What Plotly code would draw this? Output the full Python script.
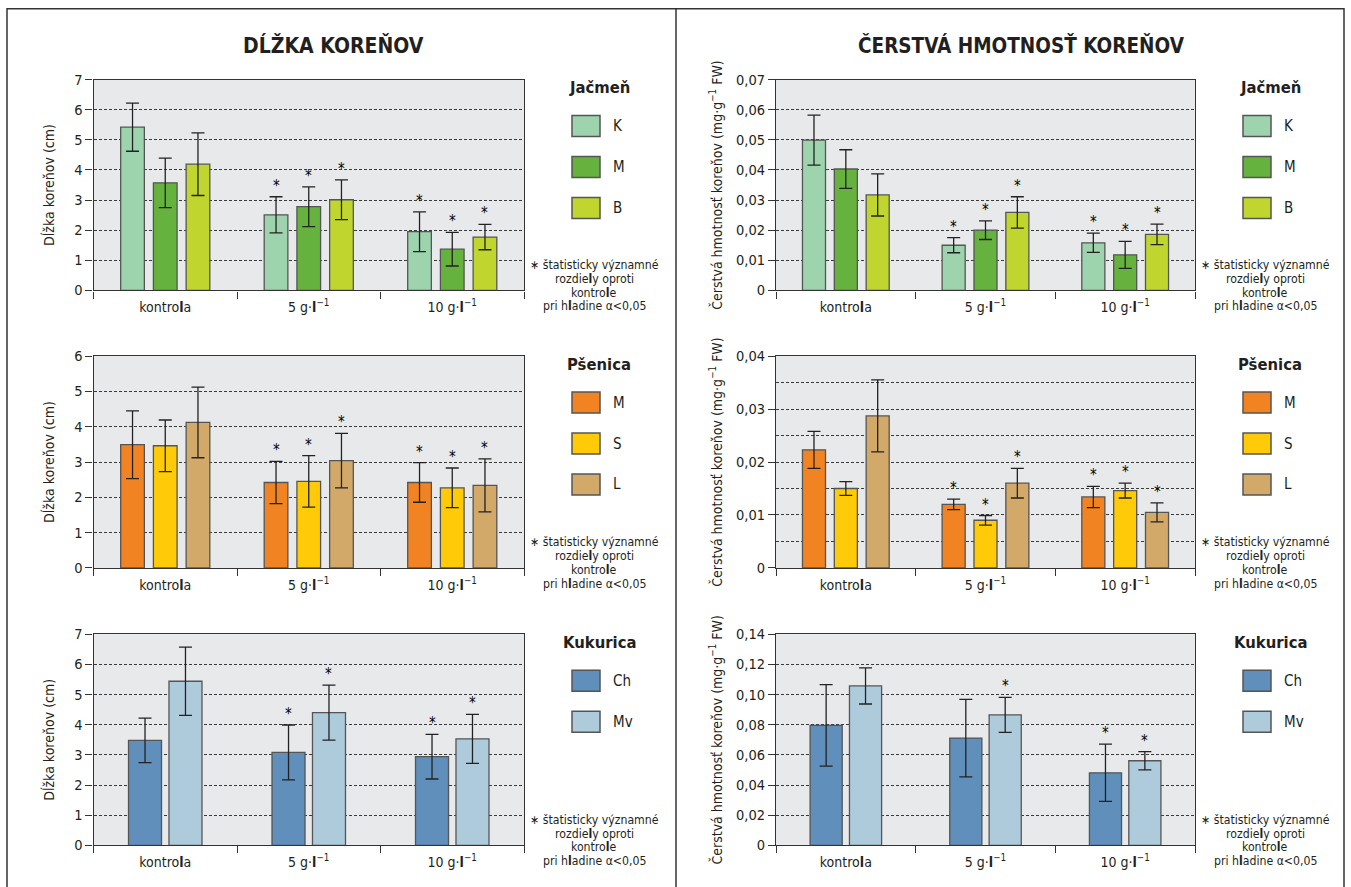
import plotly.graph_objects as go

W, H = 1351, 887
FONT = "'Liberation Sans Narrow', 'Arial Narrow', 'DejaVu Sans Condensed', sans-serif"

# ---------------- data ----------------
categories = ["kontrola", "5", "10"]
cat_ticktext = ["kontro<b>l</b>a", "5 g·<b>l</b><sup>−1</sup>", "10 g·<b>l</b><sup>−1</sup>"]

# Jačmeň (barley)
jacmen_title = "Jačmeň"
jacmen_names = ["K", "M", "B"]
jacmen_colors = ["#9dd4ae", "#66b23e", "#c0d62f"]
jacmen_len = [[5.42, 2.51, 1.95], [3.57, 2.78, 1.37], [4.19, 3.01, 1.77]]
jacmen_len_err = [[0.80, 0.60, 0.66], [0.82, 0.66, 0.56], [1.04, 0.66, 0.42]]
jacmen_len_sig = [[False, True, True], [False, True, True], [False, True, True]]
jacmen_mass = [[0.0499, 0.0150, 0.0158], [0.0403, 0.0200, 0.0118], [0.0317, 0.0259, 0.0186]]
jacmen_mass_err = [[0.0083, 0.0025, 0.0032], [0.0064, 0.0031, 0.0045], [0.0070, 0.0052, 0.0034]]
jacmen_mass_sig = [[False, True, True], [False, True, True], [False, True, True]]

# Pšenica (wheat)
psenica_title = "Pšenica"
psenica_names = ["M", "S", "L"]
psenica_colors = ["#f28322", "#ffcb08", "#d3a96a"]
psenica_len = [[3.49, 2.42, 2.42], [3.46, 2.45, 2.27], [4.12, 3.04, 2.34]]
psenica_len_err = [[0.96, 0.60, 0.56], [0.73, 0.73, 0.56], [1.00, 0.77, 0.75]]
psenica_len_sig = [[False, True, True], [False, True, True], [False, True, True]]
psenica_mass = [[0.0223, 0.0120, 0.0134], [0.0150, 0.0090, 0.0146], [0.0287, 0.0160, 0.0105]]
psenica_mass_err = [[0.0035, 0.0010, 0.0020], [0.0013, 0.0009, 0.0014], [0.0068, 0.0028, 0.0018]]
psenica_mass_sig = [[False, True, True], [False, True, True], [False, True, True]]

# Kukurica (maize)
kukurica_title = "Kukurica"
kukurica_names = ["Ch", "Mv"]
kukurica_colors = ["#5f8fba", "#aecbdc"]
kukurica_len = [[3.48, 3.08, 2.94], [5.44, 4.40, 3.53]]
kukurica_len_err = [[0.74, 0.91, 0.74], [1.13, 0.91, 0.81]]
kukurica_len_sig = [[False, True, True], [False, True, True]]
kukurica_mass = [[0.0795, 0.0711, 0.0481], [0.1057, 0.0865, 0.0561]]
kukurica_mass_err = [[0.0270, 0.0257, 0.0190], [0.0120, 0.0116, 0.0060]]
kukurica_mass_sig = [[False, False, True], [False, True, True]]

# axis ticks
len_ticks_7 = [0, 1, 2, 3, 4, 5, 6, 7]
len_ticks_6 = [0, 1, 2, 3, 4, 5, 6]
mass_ticks_07 = [0, 0.01, 0.02, 0.03, 0.04, 0.05, 0.06, 0.07]
mass_text_07 = ["0", "0,01", "0,02", "0,03", "0,04", "0,05", "0,06", "0,07"]
mass_ticks_04 = [0, 0.01, 0.02, 0.03, 0.04]
mass_text_04 = ["0", "0,01", "0,02", "0,03", "0,04"]
mass_ticks_14 = [0, 0.02, 0.04, 0.06, 0.08, 0.10, 0.12, 0.14]
mass_text_14 = ["0", "0,02", "0,04", "0,06", "0,08", "0,10", "0,12", "0,14"]

title_left = "DĹŽKA KOREŇOV"
title_right = "ČERSTVÁ HMOTNOSŤ KOREŇOV"
ytitle_len = "Dĺžka koreňov (cm)"
ytitle_mass = "Čerstvá hmotnosť koreňov (mg·g<sup>−1</sup> FW)"
note_lines = ["∗ štatisticky významné", "rozdie<b>l</b>y oproti", "kontro<b>l</b>e", "pri h<b>l</b>adine α&lt;0,05"]

# ---------------- layout helpers (pixels) ----------------
# the page is photographed with a small vertical offset/scale; compensate
VY_A, VY_B = 7.4, 0.9826

def px_x(p):
    return p / W

def px_y(p):
    return 1 - ((p - VY_A) / VY_B) / H

col_px = {0: (93.5, 524.0), 1: (776.0, 1195.0)}
row_px = {0: (79.0, 290.0), 1: (355.7, 567.7), 2: (634.0, 845.3)}
standoffs = {0: 16, 1: 10}

panels = [
    (0, 0, jacmen_title, jacmen_names, jacmen_colors, jacmen_len, jacmen_len_err, jacmen_len_sig, [0, 7], len_ticks_7, [str(v) for v in len_ticks_7], None, ytitle_len),
    (1, 0, psenica_title, psenica_names, psenica_colors, psenica_len, psenica_len_err, psenica_len_sig, [0, 6], len_ticks_6, [str(v) for v in len_ticks_6], None, ytitle_len),
    (2, 0, kukurica_title, kukurica_names, kukurica_colors, kukurica_len, kukurica_len_err, kukurica_len_sig, [0, 7], len_ticks_7, [str(v) for v in len_ticks_7], None, ytitle_len),
    (0, 1, jacmen_title, jacmen_names, jacmen_colors, jacmen_mass, jacmen_mass_err, jacmen_mass_sig, [0, 0.07], mass_ticks_07, mass_text_07, None, ytitle_mass),
    (1, 1, psenica_title, psenica_names, psenica_colors, psenica_mass, psenica_mass_err, psenica_mass_sig, [0, 0.04], mass_ticks_04, mass_text_04, 0.005, ytitle_mass),
    (2, 1, kukurica_title, kukurica_names, kukurica_colors, kukurica_mass, kukurica_mass_err, kukurica_mass_sig, [0, 0.14], mass_ticks_14, mass_text_14, None, ytitle_mass),
]

fig = go.Figure()
annotations = []
shapes = []

GRID = "#3a3a3a"
AXIS = "#333333"
TXT = "#231f20"

for k, (row, col, ltitle, names, colors, vals, errs, sigs, yr, tv, tt, minor_dt, ytitle) in enumerate(panels, start=1):
    xa = "x" if k == 1 else f"x{k}"
    ya = "y" if k == 1 else f"y{k}"
    x0p, x1p = col_px[col]
    y0p, y1p = row_px[row]
    n = len(names)
    if n == 3:
        bw, sp = 0.165, 0.228
    else:
        bw, sp = 0.23, 0.282
    for i in range(n):
        center = (i - (n - 1) / 2) * sp
        fig.add_trace(go.Bar(
            x=categories, y=vals[i], name=names[i],
            xaxis=xa, yaxis=ya, width=bw, offset=center - bw / 2,
            marker=dict(color=colors[i], line=dict(color="#555555", width=1.3)),
            error_y=dict(type="data", array=errs[i], visible=True, color="#222222", thickness=1.3, width=6.5),
            showlegend=False, hoverinfo="skip",
        ))
        for j, cat in enumerate(categories):
            if sigs[i][j]:
                annotations.append(dict(
                    x=j + center, y=vals[i][j] + errs[i][j], xref=xa, yref=ya,
                    text="*", showarrow=False, yanchor="bottom", yshift=0,
                    font=dict(size=15, color="#000000", family=FONT),
                ))
    xkey = "xaxis" if k == 1 else f"xaxis{k}"
    ykey = "yaxis" if k == 1 else f"yaxis{k}"
    ydict = dict(
        domain=[px_y(y1p), px_y(y0p)], range=yr, anchor=xa,
        tickmode="array", tickvals=tv, ticktext=tt,
        ticks="outside", ticklen=7, tickcolor=AXIS, tickwidth=1.2,
        showline=True, linecolor=AXIS, linewidth=1.2, mirror=True,
        showgrid=True, gridcolor=GRID, gridwidth=1, griddash="3px,2px",
        zeroline=False, fixedrange=True,
        tickfont=dict(size=14.5, color=TXT, family=FONT),
        title=dict(text=ytitle, font=dict(size=14, color=TXT, family=FONT), standoff=standoffs[col]),
    )
    if minor_dt:
        ydict["minor"] = dict(dtick=minor_dt, showgrid=True, gridcolor=GRID, gridwidth=1, griddash="3px,2px", ticks="")
    fig.update_layout({
        xkey: dict(
            domain=[px_x(x0p), px_x(x1p)], anchor=ya, type="category",
            range=[-0.5, 2.5], tickmode="array", tickvals=categories, ticktext=cat_ticktext,
            tickson="boundaries", ticks="outside", ticklen=7, tickcolor=AXIS, tickwidth=1.2,
            ticklabelstandoff=4,
            showline=True, linecolor=AXIS, linewidth=1.2, mirror=True,
            showgrid=False, zeroline=False, fixedrange=True,
            tickfont=dict(size=14, color=TXT, family=FONT),
        ),
        ykey: ydict,
    })

    # custom legend
    annotations.append(dict(
        x=px_x(x1p + 75), y=px_y(y0p + 8), xref="paper", yref="paper",
        text=f"<b>{ltitle}</b>", showarrow=False, xanchor="center", yanchor="middle",
        font=dict(size=16.5, color=TXT, family=FONT),
    ))
    for i in range(n):
        by0 = y0p + 36 + i * 41
        shapes.append(dict(
            type="rect", xref="paper", yref="paper",
            x0=px_x(x1p + 48), x1=px_x(x1p + 76), y0=px_y(by0 + 21), y1=px_y(by0),
            fillcolor=colors[i], line=dict(color="#555555", width=1.5),
        ))
        annotations.append(dict(
            x=px_x(x1p + 87), y=px_y(by0 + 10.5), xref="paper", yref="paper",
            text=names[i], showarrow=False, xanchor="left", yanchor="middle",
            font=dict(size=15, color=TXT, family=FONT),
        ))
    # note
    for li, line in enumerate(note_lines):
        annotations.append(dict(
            x=px_x(x1p + 70), y=px_y(y1p - 25.5 + li * 13.8), xref="paper", yref="paper",
            text=line, showarrow=False, xanchor="center", yanchor="middle",
            font=dict(size=12.2, color=TXT, family=FONT),
        ))

# panel titles
annotations.append(dict(x=px_x(333), y=px_y(45), xref="paper", yref="paper", text=f"<b>{title_left}</b>",
                        showarrow=False, xanchor="center", yanchor="middle", font=dict(size=21, color=TXT, family=FONT)))
annotations.append(dict(x=px_x(1021), y=px_y(45), xref="paper", yref="paper", text=f"<b>{title_right}</b>",
                        showarrow=False, xanchor="center", yanchor="middle", font=dict(size=20.5, color=TXT, family=FONT)))

# frame
FRAME_TOP = 1 - 0.8 / H
shapes.append(dict(type="rect", xref="paper", yref="paper", x0=px_x(7), x1=px_x(1344), y0=-0.05, y1=FRAME_TOP,
                   line=dict(color="#333333", width=1.5), fillcolor="rgba(0,0,0,0)", layer="below"))
shapes.append(dict(type="line", xref="paper", yref="paper", x0=px_x(676), x1=px_x(676), y0=-0.05, y1=FRAME_TOP,
                   line=dict(color="#333333", width=1.5), layer="below"))

fig.update_layout(
    width=W, height=H, margin=dict(l=0, r=0, t=0, b=0),
    paper_bgcolor="white", plot_bgcolor="#e8e9eb",
    barmode="overlay", showlegend=False,
    font=dict(family=FONT, color=TXT),
    annotations=annotations, shapes=shapes,
)

post = (
    "document.documentElement.style.margin='0';"
    "document.body.style.margin='0';"
    "document.body.style.overflow='hidden';"
)

fig.write_html("out.html", config={"displayModeBar": False}, post_script=post)
